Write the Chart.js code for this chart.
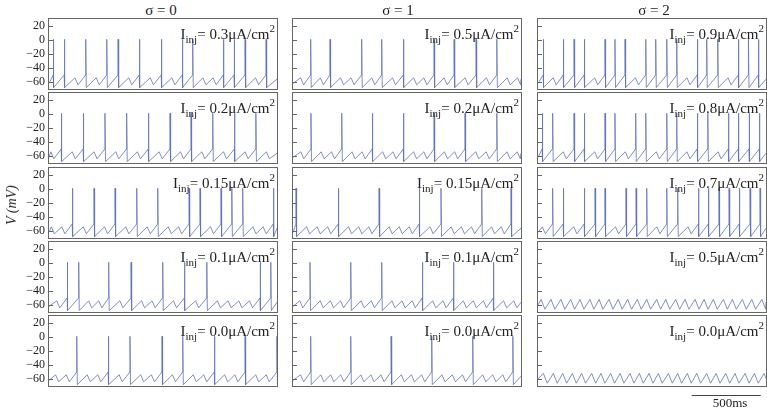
<!DOCTYPE html>
<html><head><meta charset="utf-8">
<script src="https://cdn.jsdelivr.net/npm/chart.js@4.4.1/dist/chart.umd.min.js"></script>
<style>
html,body{margin:0;padding:0;background:#fff;}
#root{position:relative;width:767px;height:411px;overflow:hidden;font-family:"Liberation Serif","DejaVu Serif",serif;color:#222;}
.pan{position:absolute;}
.pan canvas{display:block;}
.title{position:absolute;top:1px;font-size:15px;line-height:18px;white-space:nowrap;transform:translateX(-50%);}
.lab{position:absolute;font-size:15px;line-height:16px;white-space:nowrap;text-align:right;}
.lab sub{font-size:11px;vertical-align:-4px;line-height:0;}
.lab sup{font-size:11px;vertical-align:7px;line-height:0;}
.ylab{position:absolute;left:12px;top:205px;font-style:italic;font-size:14px;white-space:nowrap;transform:translate(-50%,-50%) rotate(-90deg);}
.sbl{position:absolute;font-size:13px;white-space:nowrap;transform:translateX(-50%);}
</style>
</head><body><div id="root"></div>
<script>
// ---------- data ----------
const sigmaTitles = ['σ = 0', 'σ = 1', 'σ = 2'];
const currents = [
  ['0.3', '0.2', '0.15', '0.1', '0.0'],
  ['0.5', '0.2', '0.15', '0.1', '0.0'],
  ['0.9', '0.8', '0.7', '0.5', '0.0']
];
const yTicks = [20, 0, -20, -40, -60];
const timeRange = [0, 1650];
const voltRange = [-70, 30];
const scaleBarMs = [1112, 1612];
const scaleBarLabel = '500ms';
const yLabel = 'V (mV)';

// spike times (ms) and subthreshold oscillation peak times (ms)
const spikes_s0_i030 = [31,111,266,418,500,654,813,965,1040,1262,1340,1419,1571];
const bumps_s0_i030  = [188,342,577,733,889,1114,1188,1495];
const spikes_s0_i020 = [89,248,405,562,719,876,1028,1185,1342,1497];
const bumps_s0_i020  = [13,168,326,483,640,797,952,1106,1263,1419,1573];
const spikes_s0_i015 = [169,326,478,635,787,1014,1093,1245,1323,1402,1624];
const bumps_s0_i015  = [17,93,248,402,556,711,863,938,1169,1476,1550];
const spikes_s0_i010 = [132,215,432,594,823,980,1142,1528,1605];
const bumps_s0_i010  = [56,287,360,513,670,746,901,1061,1219,1296,1374,1451];
const spikes_s0_i000 = [201,429,586,818,968,1197,1419,1649];
const bumps_s0_i000  = [48,125,277,353,508,663,741,893,1044,1120,1271,1345,1496,1572];

const spikes_s1_i050 = [128,268,497,642,799,1021,1166,1325,1475];
const bumps_s1_i050  = [55,198,344,420,570,720,873,947,1094,1245,1400,1550,1625];
const spikes_s1_i020 = [130,353,574,799,1021,1245,1475];
const bumps_s1_i020  = [56,204,279,427,500,649,724,873,947,1096,1170,1322,1398,1549,1623];
const spikes_s1_i015 = [22,328,623,914,1071,1366,1578];
const bumps_s1_i015  = [98,175,251,402,476,549,696,769,841,992,1145,1219,1292,1437,1507];
const spikes_s1_i010 = [123,418,642,936,1161,1450];
const bumps_s1_i010  = [49,197,271,344,493,567,716,789,863,1011,1086,1233,1305,1378,1524,1598];
const spikes_s1_i000 = [128,418,710,1004,1301,1591];
const bumps_s1_i000  = [55,201,273,346,491,564,637,784,857,931,1078,1153,1227,1373,1446,1518];

const spikes_s2_i090 = [38,183,261,335,485,557,630,780,852,932,1004,1153,1221,1301,1450,1523,1595];
const bumps_s2_i090  = [110,410,705,1078,1375];
const spikes_s2_i080 = [31,106,261,335,485,557,707,780,932,1004,1153,1229,1378,1450,1528,1602];
const bumps_s2_i080  = [183,410,632,856,1078,1303];
const spikes_s2_i070 = [106,183,335,413,485,637,710,787,932,1011,1161,1233,1310,1383,1457,1535,1607];
const bumps_s2_i070  = [31,259,561,860,1086];
const spikes_s2_i050 = [];
const bumps_s2_i050  = [22,94,166,237,304,376,442,514,581,649,719,787,859,925,997,1064,1137,1202,1269,1342,1407,1479,1547,1620];
const spikes_s2_i000 = [];
const bumps_s2_i000  = [39,111,179,249,316,389,456,526,594,666,734,804,871,944,1011,1081,1149,1221,1289,1359,1426,1499,1566,1636];

const panelSpikes = [
  [spikes_s0_i030, spikes_s0_i020, spikes_s0_i015, spikes_s0_i010, spikes_s0_i000],
  [spikes_s1_i050, spikes_s1_i020, spikes_s1_i015, spikes_s1_i010, spikes_s1_i000],
  [spikes_s2_i090, spikes_s2_i080, spikes_s2_i070, spikes_s2_i050, spikes_s2_i000]
];
const panelBumps = [
  [bumps_s0_i030, bumps_s0_i020, bumps_s0_i015, bumps_s0_i010, bumps_s0_i000],
  [bumps_s1_i050, bumps_s1_i020, bumps_s1_i015, bumps_s1_i010, bumps_s1_i000],
  [bumps_s2_i090, bumps_s2_i080, bumps_s2_i070, bumps_s2_i050, bumps_s2_i000]
];

// ---------- layout / style ----------
const plotLefts = [49, 293, 538];
const plotW = 228;
const rowTops = [19, 93, 168, 242, 316];
const plotH = 70;
const titleCenters = [161, 398, 654];
const LINE = '#6272b6';
const FRAME = '#666666';
const FONT = '"Liberation Serif","DejaVu Serif",serif';

function buildTrace(spk, bmp) {
  const quiet = spk.length === 0;
  const bPeak = quiet ? -52 : -54, bLow = quiet ? -66 : -64, fall = quiet ? 28 : 22;
  const peaks = spk.map(t => [t, 1]).concat(bmp.map(t => [t, 0])).sort((a, b) => a[0] - b[0]);
  const pts = [{x: timeRange[0], y: quiet ? -60 : -62}];
  for (const [t, s] of peaks) {
    if (s) pts.push({x: t - 1, y: -50}, {x: t, y: 1}, {x: t + 4, y: -68});
    else pts.push({x: t, y: bPeak}, {x: t + fall, y: bLow});
  }
  if (pts[pts.length - 1].x < timeRange[1]) pts.push({x: timeRange[1], y: -56});
  return pts;
}

const framePlugin = {
  id: 'frame',
  afterDraw(chart, args, opts) {
    const {ctx, chartArea: a, scales} = chart;
    const y = scales.y, x = scales.x;
    ctx.save();
    ctx.strokeStyle = FRAME; ctx.lineWidth = 1;
    ctx.strokeRect(a.left - 0.5, a.top - 0.5, a.right - a.left + 1, a.bottom - a.top + 1);
    ctx.beginPath();
    for (const v of yTicks) {
      const py = Math.round(y.getPixelForValue(v)) + 0.5;
      ctx.moveTo(a.left, py); ctx.lineTo(a.left + 4, py);
    }
    ctx.stroke();
    if (opts && opts.bar) {
      const x0 = x.getPixelForValue(scaleBarMs[0]), x1 = x.getPixelForValue(scaleBarMs[1]);
      const py = a.bottom + 9.5;
      ctx.strokeStyle = '#444';
      ctx.beginPath(); ctx.moveTo(x0, py); ctx.lineTo(x1, py); ctx.stroke();
    }
    ctx.restore();
  }
};

const root = document.getElementById('root');

for (let c = 0; c < 3; c++) {
  const t = document.createElement('div');
  t.className = 'title'; t.style.left = titleCenters[c] + 'px'; t.textContent = sigmaTitles[c];
  root.appendChild(t);
  for (let r = 0; r < 5; r++) {
    const isBar = (c === 2 && r === 4);
    const left = c === 0 ? 0 : plotLefts[c] - 1;
    const width = c === 0 ? plotLefts[0] + plotW + 1 : plotW + 2;
    const padBottom = isBar ? 14 : 1;
    const height = plotH + 1 + padBottom;
    const div = document.createElement('div');
    div.className = 'pan';
    div.style.left = left + 'px'; div.style.top = (rowTops[r] - 1) + 'px';
    div.style.width = width + 'px'; div.style.height = height + 'px';
    const cv = document.createElement('canvas');
    cv.width = width; cv.height = height;
    cv.style.width = width + 'px'; cv.style.height = height + 'px';
    div.appendChild(cv);
    root.appendChild(div);

    const yScale = {
      type: 'linear', min: voltRange[0], max: voltRange[1], display: c === 0,
      afterBuildTicks: s => { s.ticks = yTicks.map(v => ({value: v})); },
      grid: {display: false, drawTicks: false}, border: {display: false},
      ticks: {padding: 4, color: '#222', autoSkip: false, font: {family: FONT, size: 12},
        callback: v => v < 0 ? '\u2212' + (-v) : String(v)}
    };
    if (c === 0) yScale.afterFit = s => { s.width = plotLefts[0]; s.paddingTop = 0; s.paddingBottom = 0; };

    new Chart(cv, {
      type: 'line',
      data: {datasets: [{data: buildTrace(panelSpikes[c][r], panelBumps[c][r]),
        borderColor: LINE, borderWidth: 0.8, pointRadius: 0, tension: 0, fill: false}]},
      options: {
        responsive: false, animation: false, parsing: false, normalized: true, events: [],
        layout: {padding: {left: c === 0 ? 0 : 1, right: 1, top: 1, bottom: padBottom}},
        plugins: {legend: {display: false}, tooltip: {enabled: false}, frame: {bar: isBar}},
        scales: {
          x: {type: 'linear', min: timeRange[0], max: timeRange[1], display: false},
          y: yScale
        }
      },
      plugins: [framePlugin]
    });

    const lab = document.createElement('div');
    lab.className = 'lab';
    lab.style.right = (767 - (plotLefts[c] + plotW) + 2) + 'px';
    lab.style.top = (rowTops[r] + 7) + 'px';
    lab.innerHTML = 'I<sub>inj</sub>= ' + currents[c][r] + 'μA/cm<sup>2</sup>';
    root.appendChild(lab);
  }
}

const yl = document.createElement('div');
yl.className = 'ylab'; yl.textContent = yLabel; root.appendChild(yl);

const sbl = document.createElement('div');
sbl.className = 'sbl'; sbl.style.left = '730px'; sbl.style.top = '395px';
sbl.textContent = scaleBarLabel; root.appendChild(sbl);
</script>
</body></html>
